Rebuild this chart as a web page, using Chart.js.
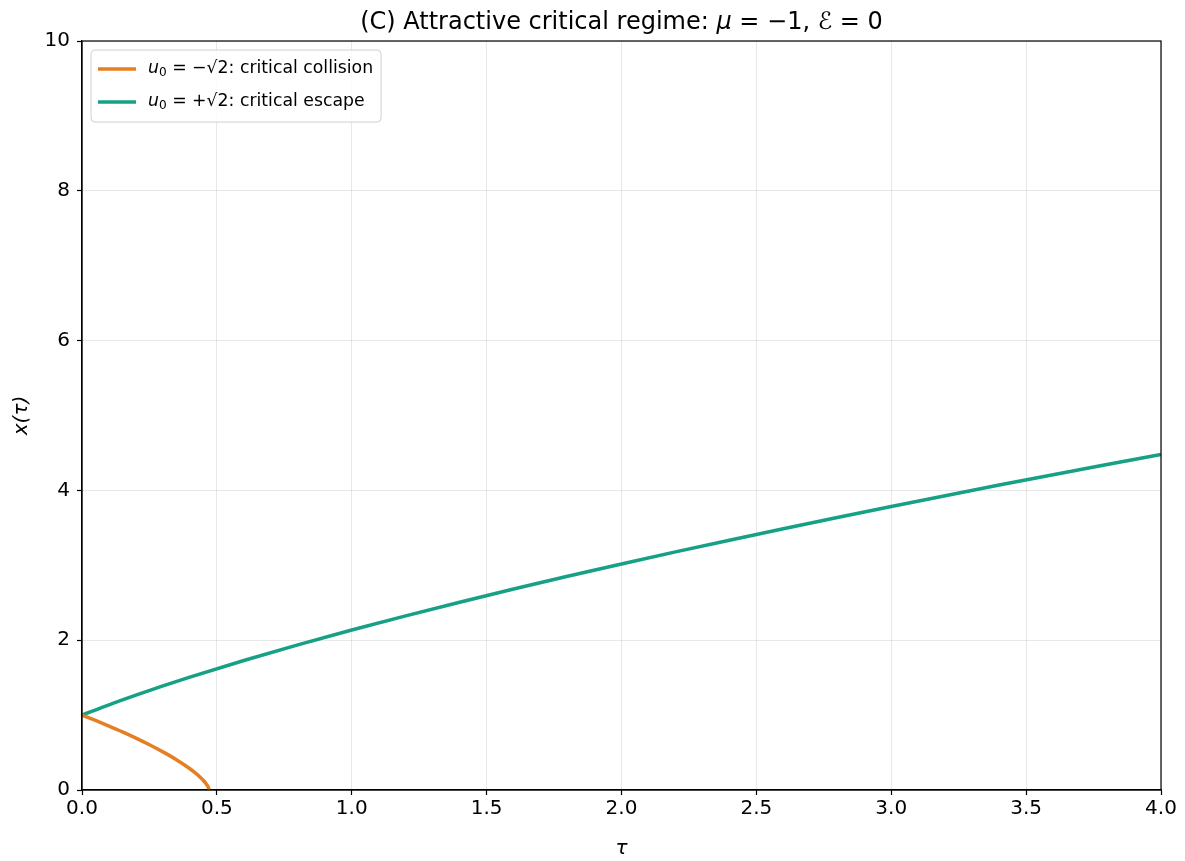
<!DOCTYPE html>
<html>
<head>
<meta charset="utf-8">
<script src="https://cdn.jsdelivr.net/npm/chart.js@4.4.1/dist/chart.umd.min.js"></script>
<style>
html,body{margin:0;padding:0;background:#fff;}
#wrap{width:1185px;height:861px;position:relative;}
</style>
</head>
<body>
<div id="wrap"><canvas id="c" width="1185" height="861"></canvas></div>
<script>
// ---- data ----
const tauEscape = [0, 0.1, 0.2, 0.3, 0.4, 0.6, 0.8, 1.0, 1.2, 1.4, 1.6, 1.8, 2.0, 2.2, 2.4, 2.6, 2.8, 3.0, 3.2, 3.4, 3.6, 3.8, 4.0];
const xEscape   = [1.0, 1.137, 1.266, 1.389, 1.506, 1.729, 1.938, 2.136, 2.325, 2.507, 2.683, 2.853, 3.018, 3.179, 3.335, 3.488, 3.638, 3.785, 3.929, 4.071, 4.210, 4.346, 4.481];
const tauCollision = [0, 0.05, 0.1, 0.15, 0.2, 0.25, 0.3, 0.35, 0.4, 0.42, 0.44, 0.45, 0.46, 0.465, 0.47, 0.4714];
const xCollision   = [1.0, 0.928, 0.853, 0.775, 0.692, 0.604, 0.509, 0.405, 0.284, 0.228, 0.164, 0.127, 0.084, 0.057, 0.021, 0.0];
const xTicks = [0, 0.5, 1.0, 1.5, 2.0, 2.5, 3.0, 3.5, 4.0];
const yTicks = [0, 2, 4, 6, 8, 10];
const seriesLabels = ['critical collision', 'critical escape'];
const seriesSigns = ['\u2212', '+'];
const colors = ['#e67e22', '#16a085'];

const FONT = "'DejaVu Sans', sans-serif";

const titlePlugin = {
  id: 'mplTitle',
  afterDraw(chart) {
    const ctx = chart.ctx, a = chart.chartArea;
    const parts = [
      ['(C) Attractive critical regime: ', 'normal'],
      ['\u03bc', 'italic'],
      [' = \u22121, ', 'normal'],
      ['\u2130', 'italic'],
      [' = 0', 'normal']
    ];
    const size = 24;
    ctx.save();
    ctx.fillStyle = '#000';
    ctx.textBaseline = 'alphabetic';
    let w = 0;
    parts.forEach(p => { ctx.font = p[1] + ' ' + size + 'px ' + FONT; w += ctx.measureText(p[0]).width; });
    let x = (a.left + a.right) / 2 - w / 2;
    const y = a.top - 12;
    parts.forEach(p => {
      ctx.font = p[1] + ' ' + size + 'px ' + FONT;
      ctx.fillText(p[0], x, y);
      x += ctx.measureText(p[0]).width;
    });
    ctx.restore();
  }
};

const framePlugin = {
  id: 'frame',
  afterDatasetsDraw(chart) {
    const ctx = chart.ctx, a = chart.chartArea;
    ctx.save();
    ctx.strokeStyle = '#000';
    ctx.lineWidth = 1.2;
    ctx.strokeRect(a.left, a.top, a.right - a.left, a.bottom - a.top);
    ctx.restore();
  }
};

const legendPlugin = {
  id: 'innerLegend',
  afterDraw(chart) {
    const ctx = chart.ctx, a = chart.chartArea;
    const size = 17.3;
    const bx = a.left + 9, by = a.top + 9;
    const rowH = 33;
    ctx.save();
    const rows = chart.data.datasets.map((ds, i) => ([
      ['u', 'italic', size, 0],
      ['0', 'normal', size * 0.7, 4],
      [' = ' + seriesSigns[i] + '\u221a2: ' + seriesLabels[i], 'normal', size, 0]
    ]));
    let maxW = 0;
    rows.forEach(r => {
      let w = 0;
      r.forEach(p => { ctx.font = p[1] + ' ' + p[2] + 'px ' + FONT; w += ctx.measureText(p[0]).width; });
      maxW = Math.max(maxW, w);
    });
    const bw = 57 + maxW + 8;
    const bh = rowH * rows.length + 6;
    const r = 4;
    ctx.beginPath();
    ctx.moveTo(bx + r, by);
    ctx.lineTo(bx + bw - r, by); ctx.quadraticCurveTo(bx + bw, by, bx + bw, by + r);
    ctx.lineTo(bx + bw, by + bh - r); ctx.quadraticCurveTo(bx + bw, by + bh, bx + bw - r, by + bh);
    ctx.lineTo(bx + r, by + bh); ctx.quadraticCurveTo(bx, by + bh, bx, by + bh - r);
    ctx.lineTo(bx, by + r); ctx.quadraticCurveTo(bx, by, bx + r, by);
    ctx.closePath();
    ctx.fillStyle = 'rgba(255,255,255,0.8)';
    ctx.fill();
    ctx.strokeStyle = '#d0d0d0';
    ctx.lineWidth = 1;
    ctx.stroke();
    rows.forEach((row, i) => {
      const cy = by + 19 + i * rowH;
      const ds = chart.data.datasets[i];
      ctx.strokeStyle = ds.borderColor;
      ctx.lineWidth = 3.5;
      ctx.beginPath();
      ctx.moveTo(bx + 7, cy);
      ctx.lineTo(bx + 45, cy);
      ctx.stroke();
      let x = bx + 57;
      ctx.fillStyle = '#000';
      ctx.textBaseline = 'middle';
      row.forEach(p => {
        ctx.font = p[1] + ' ' + p[2] + 'px ' + FONT;
        ctx.fillText(p[0], x, cy + p[3]);
        x += ctx.measureText(p[0]).width;
      });
    });
    ctx.restore();
  }
};

const toPts = (xs, ys) => xs.map((t, i) => ({ x: t, y: ys[i] }));

new Chart(document.getElementById('c'), {
  type: 'line',
  data: {
    datasets: [
      {
        label: 'u0 = \u2212\u221a2: critical collision',
        data: toPts(tauCollision, xCollision),
        borderColor: colors[0], backgroundColor: colors[0],
        borderWidth: 3.5, pointRadius: 0, cubicInterpolationMode: 'monotone', fill: false
      },
      {
        label: 'u0 = +\u221a2: critical escape',
        data: toPts(tauEscape, xEscape),
        borderColor: colors[1], backgroundColor: colors[1],
        borderWidth: 3.5, pointRadius: 0, cubicInterpolationMode: 'monotone', fill: false
      }
    ]
  },
  options: {
    responsive: false,
    animation: false,
    devicePixelRatio: 1,
    layout: { padding: { top: 41, right: 24, left: 0, bottom: 0 } },
    plugins: { legend: { display: false }, title: { display: false }, tooltip: { enabled: false } },
    scales: {
      x: {
        type: 'linear', min: 0, max: 4,
        afterBuildTicks: s => { s.ticks = xTicks.map(v => ({ value: v })); },
        afterFit: s => { s.height = 71; },
        ticks: { font: { family: FONT, size: 20 }, color: '#000', padding: 2, maxRotation: 0,
                 callback: v => Number(v).toFixed(1) },
        grid: { color: 'rgba(0,0,0,0.09)', lineWidth: 1, tickColor: '#000', tickLength: 5, tickWidth: 1.2 },
        border: { display: true, color: '#000', width: 1.2 },
        title: { display: true, text: '\u03c4', font: { family: FONT, size: 20, style: 'italic' }, color: '#000', padding: { top: 2, bottom: 0 } }
      },
      y: {
        type: 'linear', min: 0, max: 10,
        afterBuildTicks: s => { s.ticks = yTicks.map(v => ({ value: v })); },
        afterFit: s => { s.width = 82; },
        ticks: { font: { family: FONT, size: 20 }, color: '#000', padding: 7,
                 callback: v => String(v) },
        grid: { color: 'rgba(0,0,0,0.09)', lineWidth: 1, tickColor: '#000', tickLength: 5, tickWidth: 1.2 },
        border: { display: true, color: '#000', width: 1.2 },
        title: { display: true, text: 'x(\u03c4)', font: { family: FONT, size: 20, style: 'italic' }, color: '#000', padding: { top: 10, bottom: 0 } }
      }
    }
  },
  plugins: [titlePlugin, framePlugin, legendPlugin]
});
</script>
</body>
</html>
